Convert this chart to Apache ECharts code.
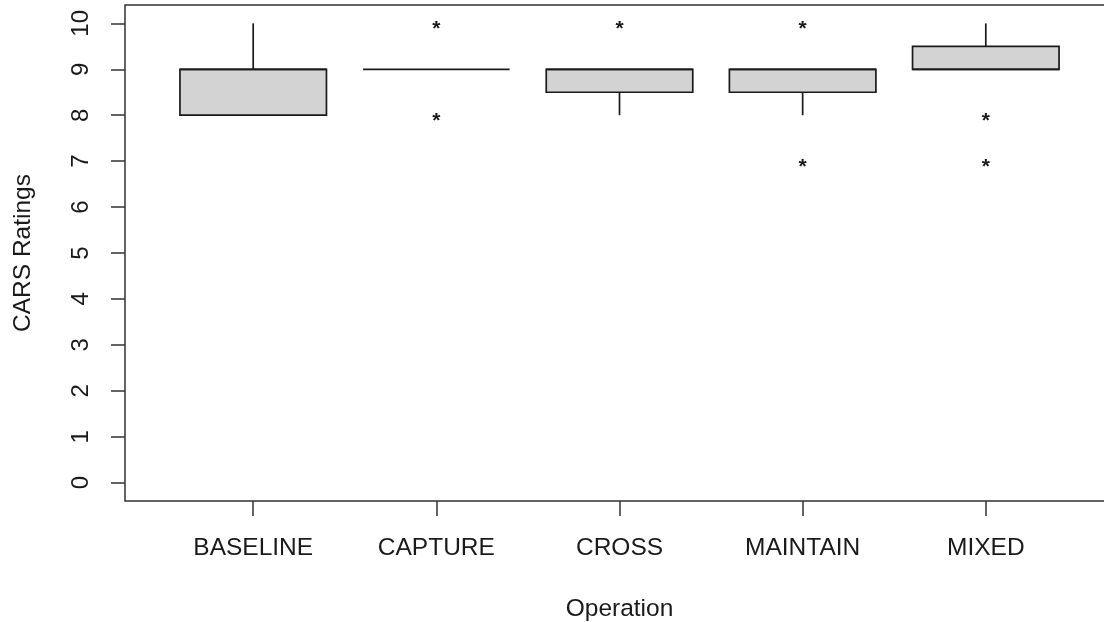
<!DOCTYPE html>
<html>
<head>
<meta charset="utf-8">
<script src="https://cdn.jsdelivr.net/npm/echarts@6/dist/echarts.min.js"></script>
<style>
html,body{margin:0;padding:0;background:#fff;}
#chart{width:1104px;height:622px;}
</style>
</head>
<body>
<div id="chart"></div>
<script>
// ---- data ----
var categories = ['BASELINE', 'CAPTURE', 'CROSS', 'MAINTAIN', 'MIXED'];
var whiskerLow  = [8, 9, 8,   8,   9];
var q1          = [8, 9, 8.5, 8.5, 9];
var median      = [9, 9, 9,   9,   9];
var q3          = [9, 9, 9,   9,   9.5];
var whiskerHigh = [10, 9, 9,  9,   10];
var outlierCat  = [2, 2, 3, 4, 4, 5, 5];
var outlierVal  = [10, 8, 10, 10, 7, 8, 7];
var yTicks = [0, 1, 2, 3, 4, 5, 6, 7, 8, 9, 10];
var xTicks = [1, 2, 3, 4, 5];

var FONT = '"Liberation Sans", Arial, sans-serif';
var INK = '#1a1a1a';

var boxData = categories.map(function (c, i) {
  return [i + 1, whiskerLow[i], q1[i], median[i], q3[i], whiskerHigh[i]];
});
var outData = outlierCat.map(function (c, i) { return [c, outlierVal[i]]; });

var chart = echarts.init(document.getElementById('chart'), null, {renderer: 'canvas'});
chart.setOption({
  animation: false,
  backgroundColor: '#ffffff',
  grid: {
    left: 125, top: 5, width: 989, height: 496,
    outerBoundsMode: 'none', containLabel: false,
    show: true, borderColor: '#333', borderWidth: 1.5, backgroundColor: 'transparent'
  },
  xAxis: {
    type: 'value', min: 0.3, max: 5.7,
    name: 'Operation', nameLocation: 'middle', nameGap: 96,
    nameTextStyle: {fontFamily: FONT, fontSize: 24.5, color: INK},
    axisLine: {show: false, onZero: false},
    splitLine: {show: false},
    axisTick: {show: true, customValues: xTicks, length: 15, lineStyle: {color: '#333', width: 1.5}},
    axisLabel: {
      customValues: xTicks, margin: 35,
      fontFamily: FONT, fontSize: 24.5, color: INK,
      formatter: function (v) { return categories[Math.round(v) - 1]; }
    }
  },
  yAxis: {
    type: 'value', min: -0.4, max: 10.4,
    name: 'CARS Ratings', nameLocation: 'middle', nameGap: 89,
    nameTextStyle: {fontFamily: FONT, fontSize: 24.5, color: INK},
    axisLine: {show: false, onZero: false},
    splitLine: {show: false},
    axisTick: {show: true, customValues: yTicks, length: 14, lineStyle: {color: '#333', width: 1.5}},
    axisLabel: {
      customValues: yTicks, rotate: 90, margin: 32,
      fontFamily: FONT, fontSize: 24, color: INK
    }
  },
  series: [
    {
      type: 'custom',
      data: boxData,
      encode: {x: 0, y: [1, 2, 3, 4, 5]},
      renderItem: function (params, api) {
        var x = api.value(0);
        var w = api.size([0.8, 0])[0];
        var pLow = api.coord([x, api.value(1)]);
        var pQ1 = api.coord([x, api.value(2)]);
        var pMed = api.coord([x, api.value(3)]);
        var pQ3 = api.coord([x, api.value(4)]);
        var pHigh = api.coord([x, api.value(5)]);
        var cx = pMed[0];
        var st = {stroke: INK, lineWidth: 1.7};
        var children = [];
        if (pQ1[1] - pQ3[1] > 0.5) {
          children.push({type: 'rect', shape: {x: cx - w / 2, y: pQ3[1], width: w, height: pQ1[1] - pQ3[1]},
            style: {fill: '#d3d3d3', stroke: INK, lineWidth: 1.7}});
        }
        children.push({type: 'line', shape: {x1: cx - w / 2, y1: pMed[1], x2: cx + w / 2, y2: pMed[1]}, style: st});
        if (pQ3[1] - pHigh[1] > 0.5) {
          children.push({type: 'line', shape: {x1: cx, y1: pHigh[1], x2: cx, y2: pQ3[1]}, style: st});
        }
        if (pLow[1] - pQ1[1] > 0.5) {
          children.push({type: 'line', shape: {x1: cx, y1: pQ1[1], x2: cx, y2: pLow[1]}, style: st});
        }
        return {type: 'group', children: children};
      }
    },
    {
      type: 'custom',
      data: outData,
      encode: {x: 0, y: 1},
      renderItem: function (params, api) {
        var p = api.coord([api.value(0), api.value(1)]);
        return {
          type: 'text',
          x: p[0], y: p[1] + 6,
          style: {text: '*', fontFamily: FONT, fontSize: 21, fontWeight: 'bold', fill: INK,
            align: 'center', verticalAlign: 'middle'}
        };
      }
    }
  ]
});
</script>
</body>
</html>
